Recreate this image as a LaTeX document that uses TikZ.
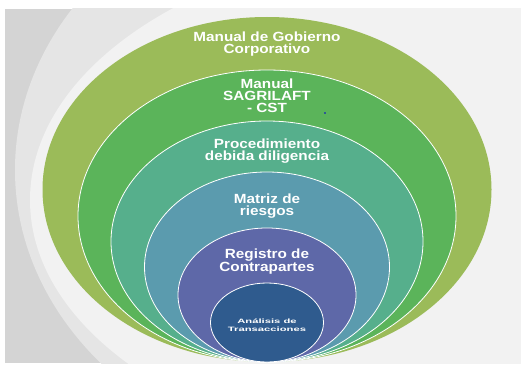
\documentclass[tikz,border=0pt]{standalone}
\usepackage{fontspec}
\setmainfont{Liberation Sans}

\definecolor{ringA}{HTML}{9BBB59}
\definecolor{ringB}{HTML}{5BB45A}
\definecolor{ringC}{HTML}{56AF8C}
\definecolor{ringD}{HTML}{5B9BAE}
\definecolor{ringE}{HTML}{5E68A8}
\definecolor{ringF}{HTML}{2F5B8E}

\tikzset{
  ring/.style={fill=#1, draw=white, line width=0.8pt},
  lbl/.style={text=white, align=center, inner sep=0pt,
    font=\fontsize{13.3}{12}\selectfont\bfseries, xscale=1.15, transform shape},
  smalllbl/.style={lbl, font=\fontsize{6.3}{8}\selectfont\bfseries, xscale=1.55}
}

\begin{document}
\begin{tikzpicture}[x=1pt, y=1pt]
  \useasboundingbox (0,0) rectangle (521,370);
  % background
  \begin{scope}
    \clip (5,7) rectangle (521,361);
    \fill[black!17] (5,7) rectangle (521,361);
    \fill[black!10] (380,200) ellipse [x radius=365, y radius=300];
    \fill[black!5] (470,170) ellipse [x radius=440, y radius=260];
  \end{scope}
  % nested rings, all touching at the bottom
  \fill[ringA] (267,180.5) ellipse [x radius=224.5, y radius=172.5];
  \filldraw[ring=ringB] (267,154) ellipse [x radius=189, y radius=146];
  \filldraw[ring=ringC] (267,128.5) ellipse [x radius=156, y radius=120.5];
  \filldraw[ring=ringD] (267,103) ellipse [x radius=122.5, y radius=95];
  \filldraw[ring=ringE] (267,75) ellipse [x radius=89, y radius=67];
  \filldraw[ring=ringF] (267,47.5) ellipse [x radius=56.5, y radius=39.5];
  \fill[blue!80!black] (325,257) circle (0.9);
  % labels
  \node[lbl] (gobierno) at (267,326) {Manual de Gobierno\\Corporativo};
  \node[lbl] (sagrilaft) at (267,274) {Manual\\SAGRILAFT\\- CST};
  \node[lbl] (debida) at (267,219) {Procedimiento\\debida diligencia};
  \node[lbl] (matriz) at (267,164) {Matriz de\\riesgos};
  \node[lbl] (registro) at (267,108.5) {Registro de\\Contrapartes};
  \node[smalllbl] (analisis) at (267,45) {Análisis de\\Transacciones};
\end{tikzpicture}
\end{document}
